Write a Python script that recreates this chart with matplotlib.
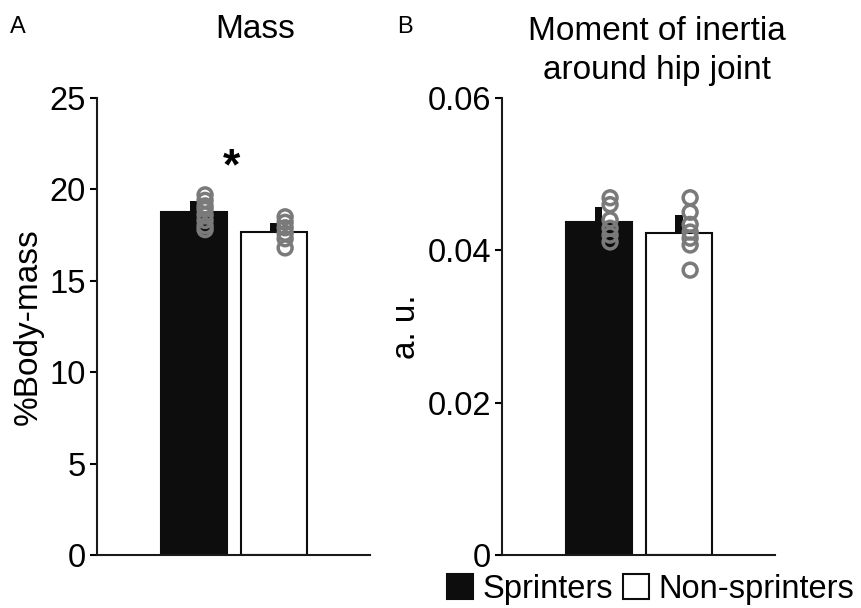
import numpy as np
import matplotlib.pyplot as plt
from matplotlib.patches import Patch

plt.rcParams['font.family'] = ['Liberation Sans', 'DejaVu Sans']

groups = ['Sprinters', 'Non-sprinters']

# panel A: mass (% body mass)
mass_mean = [18.76, 17.67]
mass_err = [0.61, 0.49]
mass_spr = [19.7, 19.4, 19.1, 18.9, 18.6, 18.3, 18.0, 17.8]
mass_non = [18.5, 18.2, 17.9, 17.6, 17.3, 16.8]

# panel B: moment of inertia around hip joint (a.u.)
moi_mean = [0.04372, 0.04228]
moi_err = [0.0020, 0.0024]
moi_spr = [0.0469, 0.0460, 0.0440, 0.0429, 0.0420, 0.0411]
moi_non = [0.0469, 0.0450, 0.0434, 0.0424, 0.0416, 0.0407, 0.0374]

W, H = 861, 608
fig = plt.figure(figsize=(W / 100, H / 100), dpi=100)

def make_ax(x0, x1, y0, y1):
    return fig.add_axes([x0 / W, 1 - y1 / H, (x1 - x0) / W, (y1 - y0) / H])

axA = make_ax(97, 370, 98, 555)
axB = make_ax(502, 775, 98, 555)

point_color = '#7a7a7a'

def draw(ax, means, errs, pts, ylim, yticks, ylabels):
    ax.bar([0, 1], means, width=0.82, color=['#0d0d0d', 'white'],
           edgecolor='#0d0d0d', linewidth=1.5, zorder=2)
    ax.bar([0, 1], errs, bottom=means, width=0.09, color='#0d0d0d',
           linewidth=0, zorder=2)
    for i, p in enumerate(pts):
        ax.scatter(np.full(len(p), i + 0.14), p, s=100, facecolors='none',
                   edgecolors=point_color, linewidths=2.5, zorder=3)
    ax.set_xlim(-1.21, 2.2)
    ax.set_ylim(*ylim)
    ax.set_yticks(yticks)
    ax.set_yticklabels(ylabels)
    ax.set_xticks([])
    for s in ['top', 'right']:
        ax.spines[s].set_visible(False)
    for s in ['left', 'bottom']:
        ax.spines[s].set_linewidth(1.5)
        ax.spines[s].set_color('#1a1a1a')
    ax.tick_params(axis='y', direction='out', length=5, width=1.5,
                   labelsize=23.5, pad=3)

draw(axA, mass_mean, mass_err, [mass_spr, mass_non], (0, 25),
     [0, 5, 10, 15, 20, 25], ['0', '5', '10', '15', '20', '25'])
draw(axB, moi_mean, moi_err, [moi_spr, moi_non], (0, 0.06),
     [0, 0.02, 0.04, 0.06], ['0', '0.02', '0.04', '0.06'])

axA.set_ylabel('%Body-mass', fontsize=24, labelpad=4)
axB.set_ylabel('a. u.', fontsize=24, labelpad=4)

axA.text(0.475, 21.2, '*', fontsize=32, ha='center', va='center',
         fontweight='bold')

fig.text(255 / W, 1 - 30 / H, 'Mass', fontsize=24, ha='center', va='center')
fig.text(657 / W, 1 - 51 / H, 'Moment of inertia\naround hip joint',
         fontsize=24, ha='center', va='center', linespacing=1.35)
fig.text(10 / W, 1 - 27 / H, 'A', fontsize=17, ha='left', va='center')
fig.text(397 / W, 1 - 27 / H, 'B', fontsize=17, ha='left', va='center')

handles = [Patch(facecolor='#0d0d0d', edgecolor='#0d0d0d', linewidth=1.5),
           Patch(facecolor='white', edgecolor='#0d0d0d', linewidth=1.5)]
fig.legend(handles, groups, loc='lower right', bbox_to_anchor=(1.0, -0.006),
           frameon=False, fontsize=23.5, handlelength=0.8, handleheight=0.8,
           handletextpad=0.3, columnspacing=0.3, ncol=2, borderpad=0.1,
           borderaxespad=0.1)

fig.savefig('out.png', dpi=100)
